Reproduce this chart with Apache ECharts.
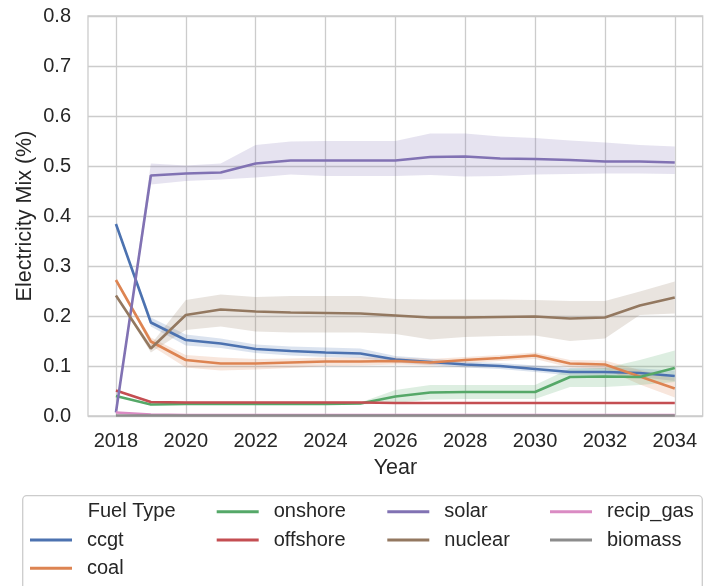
<!DOCTYPE html>
<html>
<head>
<meta charset="utf-8">
<script src="https://cdn.jsdelivr.net/npm/echarts@6/dist/echarts.min.js"></script>
<style>
html,body{margin:0;padding:0;background:#fff;}
#chart{width:704px;height:586px;}
</style>
</head>
<body>
<div id="chart"></div>
<script>
var years = [2018,2019,2020,2021,2022,2023,2024,2025,2026,2027,2028,2029,2030,2031,2032,2033,2034];
var xTicks = [2018,2020,2022,2024,2026,2028,2030,2032,2034];

var ccgt   = [0.384,0.187,0.152,0.145,0.134,0.130,0.127,0.125,0.113,0.108,0.103,0.100,0.094,0.088,0.088,0.086,0.080];
var ccgtLo = [0.384,0.179,0.141,0.136,0.126,0.121,0.118,0.116,0.107,0.102,0.097,0.094,0.088,0.081,0.080,0.078,0.070];
var ccgtHi = [0.384,0.197,0.163,0.155,0.143,0.139,0.137,0.135,0.120,0.115,0.109,0.106,0.101,0.096,0.097,0.095,0.091];

var coal   = [0.272,0.149,0.112,0.105,0.105,0.107,0.109,0.109,0.110,0.107,0.112,0.116,0.121,0.105,0.103,0.079,0.055];
var coalLo = [0.272,0.141,0.097,0.091,0.093,0.096,0.100,0.101,0.103,0.101,0.106,0.110,0.114,0.097,0.094,0.063,0.037];
var coalHi = [0.272,0.157,0.122,0.117,0.114,0.115,0.117,0.117,0.117,0.114,0.118,0.122,0.127,0.112,0.111,0.092,0.076];

var onshore   = [0.040,0.023,0.024,0.024,0.024,0.024,0.024,0.025,0.039,0.047,0.048,0.048,0.048,0.078,0.079,0.078,0.096];
var onshoreLo = [0.040,0.021,0.022,0.022,0.022,0.022,0.022,0.023,0.026,0.033,0.034,0.034,0.034,0.058,0.058,0.062,0.068];
var onshoreHi = [0.040,0.025,0.026,0.026,0.026,0.026,0.026,0.027,0.052,0.062,0.062,0.062,0.062,0.095,0.096,0.112,0.131];

var offshore   = [0.051,0.028,0.027,0.027,0.027,0.027,0.027,0.027,0.026,0.026,0.026,0.026,0.026,0.026,0.026,0.026,0.026];
var offshoreLo = [0.051,0.026,0.025,0.025,0.025,0.025,0.025,0.025,0.024,0.024,0.024,0.024,0.024,0.024,0.024,0.024,0.024];
var offshoreHi = [0.051,0.030,0.029,0.029,0.029,0.029,0.029,0.029,0.028,0.028,0.028,0.028,0.028,0.028,0.028,0.028,0.028];

var solar   = [0.007,0.481,0.485,0.487,0.505,0.511,0.511,0.511,0.511,0.518,0.519,0.515,0.514,0.512,0.509,0.509,0.507];
var solarLo = [0.007,0.463,0.470,0.473,0.477,0.483,0.480,0.480,0.480,0.482,0.479,0.480,0.483,0.484,0.485,0.485,0.484];
var solarHi = [0.007,0.505,0.501,0.505,0.542,0.549,0.550,0.550,0.550,0.565,0.565,0.559,0.556,0.551,0.547,0.542,0.539];

var nuclear   = [0.241,0.135,0.202,0.213,0.209,0.207,0.206,0.205,0.201,0.197,0.197,0.198,0.199,0.195,0.197,0.221,0.237];
var nuclearLo = [0.241,0.127,0.172,0.179,0.169,0.167,0.167,0.167,0.164,0.153,0.158,0.160,0.161,0.150,0.155,0.202,0.205];
var nuclearHi = [0.241,0.143,0.232,0.243,0.238,0.240,0.240,0.240,0.234,0.233,0.233,0.233,0.232,0.230,0.230,0.249,0.269];

var recipGas = [0.007,0.003,0.002,0.002,0.002,0.002,0.002,0.002,0.002,0.002,0.002,0.002,0.002,0.002,0.002,0.002,0.002];
var biomass  = [0.001,0.001,0.001,0.001,0.001,0.001,0.001,0.001,0.001,0.001,0.001,0.001,0.001,0.001,0.001,0.001,0.001];

var fuelNames = ['ccgt','coal','onshore','offshore','solar','nuclear','recip_gas','biomass'];
var colors = ['#4C72B0','#DD8452','#55A868','#C44E52','#8172B3','#937860','#DA8BC3','#8C8C8C'];
var means = [ccgt, coal, onshore, offshore, solar, nuclear, recipGas, biomass];
var lows  = [ccgtLo, coalLo, onshoreLo, offshoreLo, solarLo, nuclearLo, null, null];
var highs = [ccgtHi, coalHi, onshoreHi, offshoreHi, solarHi, nuclearHi, null, null];

var FONT = "'Liberation Sans', Arial, 'DejaVu Sans', sans-serif";
var TXT = '#262626';

function hexToRgba(hex, a) {
  var r = parseInt(hex.slice(1,3),16), g = parseInt(hex.slice(3,5),16), b = parseInt(hex.slice(5,7),16);
  return 'rgba(' + r + ',' + g + ',' + b + ',' + a + ')';
}

var series = [];
fuelNames.forEach(function (name, k) {
  var lo = lows[k], hi = highs[k];
  if (lo && hi) {
    series.push({
      name: name + '_ci',
      type: 'custom',
      silent: true,
      z: 1,
      encode: { x: 0, y: [1, 2] },
      data: years.map(function (y, i) { return [y, lo[i], hi[i]]; }),
      renderItem: function (params, api) {
        if (params.dataIndex !== 0) return null;
        var pts = [];
        for (var i = 0; i < years.length; i++) pts.push(api.coord([years[i], hi[i]]));
        for (var j = years.length - 1; j >= 0; j--) pts.push(api.coord([years[j], lo[j]]));
        return { type: 'polygon', shape: { points: pts }, style: { fill: hexToRgba(colors[k], 0.2) } };
      }
    });
  }
});
fuelNames.forEach(function (name, k) {
  series.push({
    name: name,
    type: 'line',
    z: 2,
    symbol: 'none',
    color: colors[k],
    lineStyle: { width: 2.6, color: colors[k] },
    data: years.map(function (y, i) { return [y, means[k][i]]; })
  });
});

function makeLegend(names, left, top) {
  return {
    orient: 'vertical',
    left: left,
    top: top,
    padding: 0,
    itemGap: 8.3,
    itemWidth: 42,
    itemHeight: 3,
    icon: 'rect',
    selectedMode: false,
    data: names,
    textStyle: { fontSize: 20, fontFamily: FONT, color: TXT, lineHeight: 20, padding: [0, 0, 0, 10] }
  };
}

var chart = echarts.init(document.getElementById('chart'), null, { renderer: 'canvas' });
chart.setOption({
  animation: false,
  backgroundColor: '#ffffff',
  grid: { left: 88, top: 16, right: 1.3, bottom: 170, show: true, borderColor: '#cccccc', borderWidth: 1.3, backgroundColor: 'transparent' },
  xAxis: {
    type: 'value',
    min: 2017.2,
    max: 2034.8,
    axisLine: { show: false },
    axisTick: { show: false, customValues: xTicks },
    axisLabel: { customValues: xTicks, fontSize: 20, fontFamily: FONT, color: TXT, margin: 15, formatter: function (v) { return String(v); } },
    splitLine: { show: true, customValues: xTicks, lineStyle: { color: '#cccccc', width: 1.3 } },
    name: 'Year',
    nameLocation: 'middle',
    nameGap: 41,
    nameMoveOverlap: false,
    nameTextStyle: { fontSize: 21.5, fontFamily: FONT, color: TXT }
  },
  yAxis: {
    type: 'value',
    min: 0,
    max: 0.8,
    interval: 0.1,
    axisLine: { show: false },
    axisTick: { show: false },
    axisLabel: { fontSize: 20, fontFamily: FONT, color: TXT, margin: 17, formatter: function (v) { return v.toFixed(1); } },
    splitLine: { show: true, lineStyle: { color: '#cccccc', width: 1.3 } },
    name: 'Electricity Mix (%)',
    nameLocation: 'middle',
    nameGap: 52,
    nameRotate: 90,
    nameMoveOverlap: false,
    nameTextStyle: { fontSize: 21.5, fontFamily: FONT, color: TXT }
  },
  legend: [
    makeLegend(['ccgt', 'coal'], 30, 530),
    makeLegend(['onshore', 'offshore'], 216.7, 501.7),
    makeLegend(['solar', 'nuclear'], 387.3, 501.7),
    makeLegend(['recip_gas', 'biomass'], 550, 501.7)
  ],
  graphic: [
    {
      type: 'rect',
      z: -1,
      shape: { x: 22.7, y: 495.7, width: 679.6, height: 120, r: 4 },
      style: { fill: '#ffffff', stroke: '#cccccc', lineWidth: 1.3 }
    },
    {
      type: 'text',
      x: 87.7,
      y: 511.7,
      style: { text: 'Fuel Type', font: '20px ' + FONT, fill: TXT, verticalAlign: 'middle', align: 'left' }
    }
  ],
  series: series
});
</script>
</body>
</html>
